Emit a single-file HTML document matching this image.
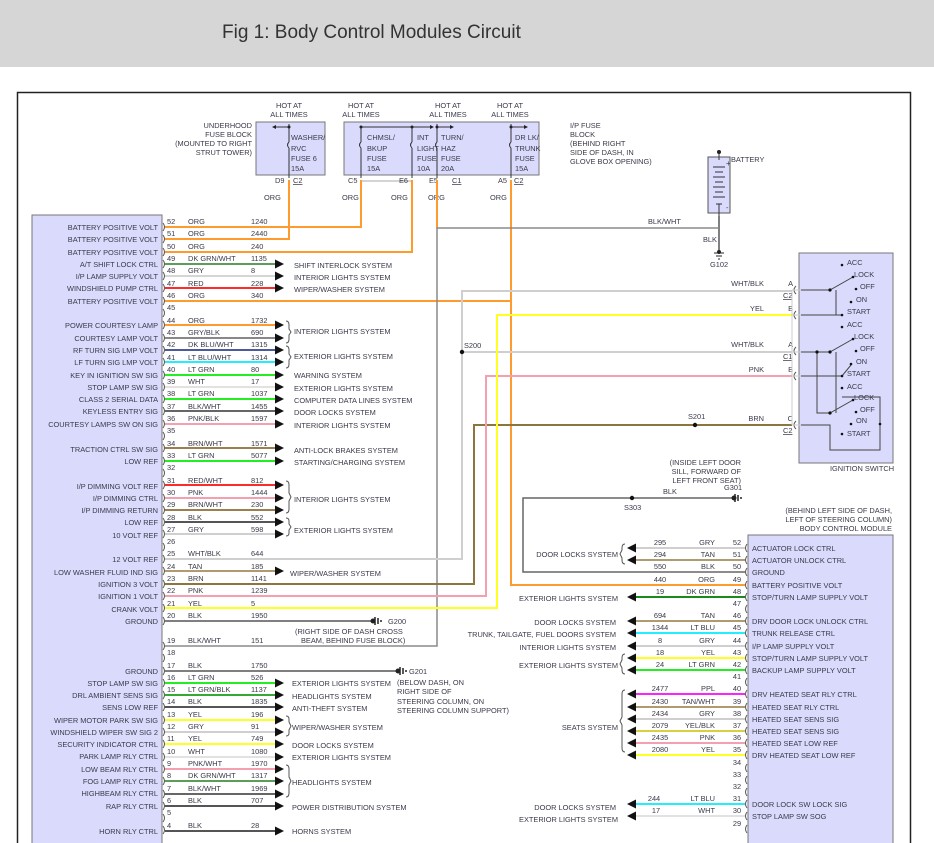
<!DOCTYPE html>
<html><head><meta charset="utf-8"><style>
html,body{margin:0;padding:0;background:#fff;width:934px;height:843px;overflow:hidden}
svg{display:block;overflow:hidden}
text{font-family:"Liberation Sans",sans-serif;font-size:7.4px;fill:#3a3a4a}
.e{text-anchor:end}.m{text-anchor:middle}
.w{stroke-width:2;fill:none}
</style></head><body>
<svg width="934" height="843" viewBox="0 0 934 843">
<rect x="0" y="0" width="934" height="67" fill="#d6d6d6"/>
<text x="222" y="38" style="font-size:19px;fill:#333">Fig 1: Body Control Modules Circuit</text>
<path d="M17.5,843V92.5H910.5V843" fill="#fff" stroke="#222" stroke-width="1.5"/>

<!-- left module -->
<path d="M32,843V215H162V843" fill="#dadafc" stroke="#777"/>
<!-- right module -->
<path d="M748,843V535H893V843" fill="#dadafc" stroke="#777"/>
<!-- ignition switch -->
<rect x="799" y="253" width="94" height="210" fill="#dadafc" stroke="#777"/>
<text x="830" y="471">IGNITION SWITCH</text>

<!-- top fuse blocks -->
<rect x="256" y="122" width="69" height="53" fill="#dadafc" stroke="#777"/>
<rect x="344" y="122" width="195" height="53" fill="#dadafc" stroke="#777"/>
<g class="m">
<text x="289" y="108">HOT AT</text><text x="289" y="117">ALL TIMES</text>
<text x="361" y="108">HOT AT</text><text x="361" y="117">ALL TIMES</text>
<text x="448" y="108">HOT AT</text><text x="448" y="117">ALL TIMES</text>
<text x="510" y="108">HOT AT</text><text x="510" y="117">ALL TIMES</text>
</g>
<g class="e"><text x="252" y="128">UNDERHOOD</text><text x="252" y="137">FUSE BLOCK</text><text x="252" y="146">(MOUNTED TO RIGHT</text><text x="252" y="155">STRUT TOWER)</text></g>
<text x="570" y="128">I/P FUSE</text><text x="570" y="137">BLOCK</text><text x="570" y="146">(BEHIND RIGHT</text><text x="570" y="155">SIDE OF DASH, IN</text><text x="570" y="164">GLOVE BOX OPENING)</text>
<g stroke="#333" stroke-width="1" fill="none">
<path d="M289,124V142 M289,148V178"/><path d="M289,142q-3,3 0,6"/>
<path d="M289,127H274"/><path d="M361,127H432 M437,127H452 M511,127H526"/>
<path d="M361,127V142 M361,148V178 M361,142q-3,3 0,6"/>
<path d="M412,127V142 M412,148V178 M412,142q-3,3 0,6"/>
<path d="M437,124V142 M437,148V178 M437,142q-3,3 0,6"/>
<path d="M511,124V142 M511,148V178 M511,142q-3,3 0,6"/>
<path d="M361,181H412" stroke="#aaa"/>
</g>
<g fill="#222"><circle cx="289" cy="127" r="1.5"/><circle cx="361" cy="127" r="1.5"/><circle cx="412" cy="127" r="1.5"/><circle cx="437" cy="127" r="1.5"/><circle cx="511" cy="127" r="1.5"/>
<path d="M272,127l4,-2v4z"/><path d="M434,127l-4,-2v4z"/><path d="M454,127l-4,-2v4z"/><path d="M528,127l-4,-2v4z"/></g>
<text x="291" y="140">WASHER/</text><text x="291" y="151">RVC</text><text x="291" y="161">FUSE 6</text><text x="291" y="171">15A</text>
<text x="367" y="140">CHMSL/</text><text x="367" y="151">BKUP</text><text x="367" y="161">FUSE</text><text x="367" y="171">15A</text>
<text x="417" y="140">INT</text><text x="417" y="151">LIGHT</text><text x="417" y="161">FUSE</text><text x="417" y="171">10A</text>
<text x="441" y="140">TURN/</text><text x="441" y="151">HAZ</text><text x="441" y="161">FUSE</text><text x="441" y="171">20A</text>
<text x="515" y="140">DR LK/</text><text x="515" y="151">TRUNK</text><text x="515" y="161">FUSE</text><text x="515" y="171">15A</text>
<text x="275" y="183">D9</text><text x="293" y="183" text-decoration="underline">C2</text>
<text x="348" y="183">C5</text><text x="399" y="183">E6</text>
<text x="429" y="183">E5</text><text x="452" y="183" text-decoration="underline">C1</text>
<text x="498" y="183">A5</text><text x="514" y="183" text-decoration="underline">C2</text>
<text x="264" y="200">ORG</text><text x="342" y="200">ORG</text><text x="391" y="200">ORG</text><text x="428" y="200">ORG</text><text x="490" y="200">ORG</text>

<!-- battery -->
<rect x="708" y="157" width="22" height="56" fill="#dadafc" stroke="#555"/>
<g stroke="#333" fill="none"><path d="M719,151V160 M713,167h12 M715,172h8 M713,177h12 M715,182h8 M713,187h12 M715,192h8 M713,197h12 M716,204h6 M719,204V216"/></g>
<circle cx="719" cy="152" r="2" fill="#222"/><text x="726" y="166" style="font-size:8px">+</text><text x="726" y="210">-</text>
<text x="731" y="162">BATTERY</text>
<text x="648" y="224">BLK/WHT</text><text x="703" y="242">BLK</text>
<path d="M719,216V252" stroke="#555" stroke-width="1.5"/>
<path d="M714,253h10 M716,256h6 M718,259h2" stroke="#222"/><circle cx="719" cy="252" r="2" fill="#222"/>
<text x="710" y="267">G102</text>

<!-- long wires -->
<g class="w">
<path d="M165,227H361V180" stroke="#ff9a2e"/>
<path d="M165,239H289V180" stroke="#ff9a2e"/>
<path d="M165,252H412V180" stroke="#ff9a2e"/>
<path d="M165,301H511V180" stroke="#ff9a2e"/>
<path d="M511,301V585H745" stroke="#ff9a2e"/>
<path d="M437,180V228" stroke="#ff9a2e"/>
<path d="M719,228H437V646H165" stroke="#8a8a8a" stroke-width="1.5"/>
<path d="M165,559H462V291H792" stroke="#cfcfcf"/>
<path d="M462,352H792" stroke="#cfcfcf"/>
<path d="M165,584H474V425H792" stroke="#8b7540"/>
<path d="M165,596H486V376H792" stroke="#f5a0b0"/>
<path d="M165,608H497V315H792" stroke="#ffff22"/>
<path d="M165,621H372" stroke="#555" stroke-width="1.5"/>
<path d="M165,671H397" stroke="#555" stroke-width="1.5"/>
<path d="M735,498H523V572H745" stroke="#666" stroke-width="1.5"/>
</g>
<circle cx="462" cy="352" r="2.2" fill="#111"/><text x="464" y="348">S200</text>
<circle cx="695" cy="425" r="2.2" fill="#111"/><text x="688" y="419">S201</text>
<circle cx="632" cy="498" r="2.2" fill="#111"/><text x="624" y="510">S303</text>
<text x="663" y="494">BLK</text>
<path d="M735,494v8 M738,495v6 M741,497v2" stroke="#222" stroke-width="1.5"/><circle cx="734" cy="498" r="2.5" fill="#222"/>
<text x="724" y="490">G301</text>
<g class="e"><text x="741" y="465">(INSIDE LEFT DOOR</text><text x="741" y="474">SILL, FORWARD OF</text><text x="741" y="483">LEFT FRONT SEAT)</text></g>
<path d="M375,617v8 M378,618v6 M381,620v2" stroke="#222" stroke-width="1.5"/><circle cx="373" cy="621" r="2.5" fill="#222"/>
<text x="388" y="624">G200</text>
<text x="295" y="634">(RIGHT SIDE OF DASH CROSS</text><text x="301" y="643">BEAM, BEHIND FUSE BLOCK)</text>
<path d="M400,667v8 M403,668v6 M406,670v2" stroke="#222" stroke-width="1.5"/><circle cx="398" cy="671" r="2.5" fill="#222"/>
<text x="409" y="674">G201</text>
<text x="397" y="685">(BELOW DASH, ON</text><text x="397" y="694">RIGHT SIDE OF</text><text x="397" y="704">STEERING COLUMN, ON</text><text x="397" y="713">STEERING COLUMN SUPPORT)</text>
<g class="e"><text x="892" y="513">(BEHIND LEFT SIDE OF DASH,</text><text x="892" y="522">LEFT OF STEERING COLUMN)</text><text x="892" y="531">BODY CONTROL MODULE</text></g>

<!-- ignition switch connectors & internals -->
<g class="e"><text x="764" y="286">WHT/BLK</text><text x="764" y="311">YEL</text><text x="764" y="347">WHT/BLK</text><text x="764" y="372">PNK</text><text x="764" y="421">BRN</text>
<text x="793" y="286">A</text><text x="793" y="311">B</text><text x="793" y="347">A</text><text x="793" y="372">B</text><text x="793" y="421">C</text></g>
<text x="783" y="298" text-decoration="underline">C2</text><text x="783" y="359" text-decoration="underline">C1</text><text x="783" y="433" text-decoration="underline">C2</text>
<g stroke="#555" fill="none"><path d="M796,286q-4,4 0,8 M796,311q-4,4 0,8 M796,347q-4,4 0,8 M796,372q-4,4 0,8 M796,421q-4,4 0,8"/>
<path d="M792,290H803 M792,315H803 M792,352H803 M792,376H803 M792,425H803" stroke="#ccc" stroke-width="1"/>
<path d="M792,290V425" stroke="#ccc"/>
<path d="M801,290H830L853,277 M836,290V315 M801,315H842 M801,352H830L853,339 M817,352V413H830L853,400 M836,352V413 M801,376H842L851,365 M801,425H830V450H880V397H842" stroke="#444"/>
</g>
<g fill="#111"><circle cx="830" cy="290" r="1.6"/><circle cx="842" cy="265" r="1.3"/><circle cx="853" cy="277" r="1.3"/><circle cx="856" cy="289" r="1.3"/><circle cx="851" cy="302" r="1.3"/><circle cx="842" cy="315" r="1.3"/>
<circle cx="830" cy="352" r="1.6"/><circle cx="817" cy="352" r="1.6"/><circle cx="842" cy="327" r="1.3"/><circle cx="853" cy="339" r="1.3"/><circle cx="856" cy="351" r="1.3"/><circle cx="851" cy="364" r="1.3"/><circle cx="842" cy="376" r="1.3"/>
<circle cx="830" cy="413" r="1.6"/><circle cx="842" cy="388" r="1.3"/><circle cx="853" cy="400" r="1.3"/><circle cx="856" cy="412" r="1.3"/><circle cx="851" cy="424" r="1.3"/><circle cx="880" cy="424" r="1.3"/><circle cx="842" cy="434" r="1.3"/></g>
<text x="847" y="265">ACC</text><text x="854" y="277">LOCK</text><text x="860" y="289">OFF</text><text x="856" y="302">ON</text><text x="847" y="314">START</text>
<text x="847" y="327">ACC</text><text x="854" y="339">LOCK</text><text x="860" y="351">OFF</text><text x="856" y="364">ON</text><text x="847" y="376">START</text>
<text x="847" y="389">ACC</text><text x="854" y="400">LOCK</text><text x="860" y="412">OFF</text><text x="856" y="423">ON</text><text x="847" y="436">START</text>

<!-- LEFT pins -->
<g stroke="#555" fill="none">
<path d="M163,223q3,4 0,8 M163,235q3,4 0,8 M163,248q3,4 0,8 M163,260q3,4 0,8 M163,272q3,4 0,8 M163,284q3,4 0,8 M163,297q3,4 0,8 M163,309q3,4 0,8 M163,321q3,4 0,8 M163,334q3,4 0,8 M163,346q3,4 0,8 M163,358q3,4 0,8 M163,371q3,4 0,8 M163,383q3,4 0,8 M163,395q3,4 0,8 M163,407q3,4 0,8 M163,420q3,4 0,8 M163,432q3,4 0,8 M163,444q3,4 0,8 M163,457q3,4 0,8 M163,469q3,4 0,8 M163,481q3,4 0,8 M163,494q3,4 0,8 M163,506q3,4 0,8 M163,518q3,4 0,8 M163,530q3,4 0,8 M163,543q3,4 0,8 M163,555q3,4 0,8 M163,567q3,4 0,8 M163,580q3,4 0,8 M163,592q3,4 0,8 M163,604q3,4 0,8 M163,617q3,4 0,8 M163,642q3,4 0,8 M163,654q3,4 0,8 M163,667q3,4 0,8 M163,679q3,4 0,8 M163,691q3,4 0,8 M163,703q3,4 0,8 M163,716q3,4 0,8 M163,728q3,4 0,8 M163,740q3,4 0,8 M163,753q3,4 0,8 M163,765q3,4 0,8 M163,777q3,4 0,8 M163,790q3,4 0,8 M163,802q3,4 0,8 M163,814q3,4 0,8 M163,826q3,4 0,8"/>
</g>
<g class="w">
<path d="M165,264H276" stroke="#5a9e5a"/><path d="M165,276H276" stroke="#d5d5d5"/><path d="M165,288H276" stroke="#ff2a2a"/>
<path d="M165,325H276" stroke="#ff9a2e"/><path d="M165,338H276" stroke="#888"/><path d="M165,350H276" stroke="#4a5a9a"/><path d="M165,362H276" stroke="#22eeff"/>
<path d="M165,375H276" stroke="#22ee22"/><path d="M165,387H276" stroke="#e2e2e2"/><path d="M165,399H276" stroke="#22ee22"/><path d="M165,411H276" stroke="#666"/><path d="M165,424H276" stroke="#f5a0b0"/>
<path d="M165,448H276" stroke="#9a8050"/><path d="M165,461H276" stroke="#22ee22"/>
<path d="M165,485H276" stroke="#ff2a2a"/><path d="M165,498H276" stroke="#f5a0b0"/><path d="M165,510H276" stroke="#9a8050"/><path d="M165,522H276" stroke="#555"/><path d="M165,534H276" stroke="#cfcfcf"/>
<path d="M165,571H276" stroke="#b09a70"/>
<path d="M165,683H276" stroke="#22ee22"/><path d="M165,695H276" stroke="#33aa33"/><path d="M165,707H276" stroke="#555"/><path d="M165,720H276" stroke="#ffff22"/><path d="M165,732H276" stroke="#cfcfcf"/><path d="M165,744H276" stroke="#ffff22"/><path d="M165,757H276" stroke="#e2e2e2"/>
<path d="M165,769H276" stroke="#f5a0b0"/><path d="M165,781H276" stroke="#5a9e5a"/><path d="M165,794H276" stroke="#666"/><path d="M165,806H276" stroke="#555"/><path d="M165,831H276" stroke="#555"/>
</g>
<g fill="#111">
<path d="M284,264l-9,-4.5v9z"/><path d="M284,276l-9,-4.5v9z"/><path d="M284,288l-9,-4.5v9z"/><path d="M284,325l-9,-4.5v9z"/><path d="M284,338l-9,-4.5v9z"/><path d="M284,350l-9,-4.5v9z"/><path d="M284,362l-9,-4.5v9z"/><path d="M284,375l-9,-4.5v9z"/><path d="M284,387l-9,-4.5v9z"/><path d="M284,399l-9,-4.5v9z"/><path d="M284,411l-9,-4.5v9z"/><path d="M284,424l-9,-4.5v9z"/><path d="M284,448l-9,-4.5v9z"/><path d="M284,461l-9,-4.5v9z"/><path d="M284,485l-9,-4.5v9z"/><path d="M284,498l-9,-4.5v9z"/><path d="M284,510l-9,-4.5v9z"/><path d="M284,522l-9,-4.5v9z"/><path d="M284,534l-9,-4.5v9z"/><path d="M284,571l-9,-4.5v9z"/><path d="M284,683l-9,-4.5v9z"/><path d="M284,695l-9,-4.5v9z"/><path d="M284,707l-9,-4.5v9z"/><path d="M284,720l-9,-4.5v9z"/><path d="M284,732l-9,-4.5v9z"/><path d="M284,744l-9,-4.5v9z"/><path d="M284,757l-9,-4.5v9z"/><path d="M284,769l-9,-4.5v9z"/><path d="M284,781l-9,-4.5v9z"/><path d="M284,794l-9,-4.5v9z"/><path d="M284,806l-9,-4.5v9z"/><path d="M284,831l-9,-4.5v9z"/>
</g>
<g stroke="#555" fill="none">
<path d="M286,321q3,0 3,4v4l2,3l-2,3v4q0,4-3,4"/><path d="M286,346q3,0 3,4v4l2,3l-2,3v4q0,4-3,4"/>
<path d="M286,481q3,0 3,4v8l2,4l-2,4v8q0,4-3,4"/><path d="M286,518q3,0 3,3v3l2,3l-2,3v3q0,3-3,3"/>
<path d="M286,716q3,0 3,3v3l2,4l-2,4v3q0,3-3,3"/><path d="M286,765q3,0 3,4v8l2,4l-2,4v8q0,4-3,4"/>
</g>
<!-- left labels -->
<g class="e">
<text x="158" y="230">BATTERY POSITIVE VOLT</text><text x="158" y="242">BATTERY POSITIVE VOLT</text><text x="158" y="255">BATTERY POSITIVE VOLT</text>
<text x="158" y="267">A/T SHIFT LOCK CTRL</text><text x="158" y="279">I/P LAMP SUPPLY VOLT</text><text x="158" y="291">WINDSHIELD PUMP CTRL</text><text x="158" y="304">BATTERY POSITIVE VOLT</text>
<text x="158" y="328">POWER COURTESY LAMP</text><text x="158" y="341">COURTESY LAMP VOLT</text><text x="158" y="353">RF TURN SIG LMP VOLT</text><text x="158" y="365">LF TURN SIG LMP VOLT</text>
<text x="158" y="378">KEY IN IGNITION SW SIG</text><text x="158" y="390">STOP LAMP SW SIG</text><text x="158" y="402">CLASS 2 SERIAL DATA</text><text x="158" y="414">KEYLESS ENTRY SIG</text><text x="158" y="427">COURTESY LAMPS SW ON SIG</text>
<text x="158" y="452">TRACTION CTRL SW SIG</text><text x="158" y="464">LOW REF</text>
<text x="158" y="489">I/P DIMMING VOLT REF</text><text x="158" y="501">I/P DIMMING CTRL</text><text x="158" y="513">I/P DIMMING RETURN</text><text x="158" y="525">LOW REF</text><text x="158" y="538">10 VOLT REF</text>
<text x="158" y="562">12 VOLT REF</text><text x="158" y="575">LOW WASHER FLUID IND SIG</text><text x="158" y="587">IGNITION 3 VOLT</text><text x="158" y="599">IGNITION 1 VOLT</text><text x="158" y="612">CRANK VOLT</text><text x="158" y="624">GROUND</text>
<text x="158" y="674">GROUND</text><text x="158" y="686">STOP LAMP SW SIG</text><text x="158" y="698">DRL AMBIENT SENS SIG</text><text x="158" y="710">SENS LOW REF</text><text x="158" y="723">WIPER MOTOR PARK SW SIG</text><text x="158" y="735">WINDSHIELD WIPER SW SIG 2</text><text x="158" y="747">SECURITY INDICATOR CTRL</text><text x="158" y="759">PARK LAMP RLY CTRL</text>
<text x="158" y="772">LOW BEAM RLY CTRL</text><text x="158" y="784">FOG LAMP RLY CTRL</text><text x="158" y="796">HIGHBEAM RLY CTRL</text><text x="158" y="809">RAP RLY CTRL</text><text x="158" y="834">HORN RLY CTRL</text>
</g>
<!-- left pin numbers / colors / circuits -->
<g>
<text x="167" y="224">52</text><text x="188" y="224">ORG</text><text x="251" y="224">1240</text>
<text x="167" y="236">51</text><text x="188" y="236">ORG</text><text x="251" y="236">2440</text>
<text x="167" y="249">50</text><text x="188" y="249">ORG</text><text x="251" y="249">240</text>
<text x="167" y="261">49</text><text x="188" y="261">DK GRN/WHT</text><text x="251" y="261">1135</text>
<text x="167" y="273">48</text><text x="188" y="273">GRY</text><text x="251" y="273">8</text>
<text x="167" y="286">47</text><text x="188" y="286">RED</text><text x="251" y="286">228</text>
<text x="167" y="298">46</text><text x="188" y="298">ORG</text><text x="251" y="298">340</text>
<text x="167" y="310">45</text>
<text x="167" y="323">44</text><text x="188" y="323">ORG</text><text x="251" y="323">1732</text>
<text x="167" y="335">43</text><text x="188" y="335">GRY/BLK</text><text x="251" y="335">690</text>
<text x="167" y="347">42</text><text x="188" y="347">DK BLU/WHT</text><text x="251" y="347">1315</text>
<text x="167" y="360">41</text><text x="188" y="360">LT BLU/WHT</text><text x="251" y="360">1314</text>
<text x="167" y="372">40</text><text x="188" y="372">LT GRN</text><text x="251" y="372">80</text>
<text x="167" y="384">39</text><text x="188" y="384">WHT</text><text x="251" y="384">17</text>
<text x="167" y="396">38</text><text x="188" y="396">LT GRN</text><text x="251" y="396">1037</text>
<text x="167" y="409">37</text><text x="188" y="409">BLK/WHT</text><text x="251" y="409">1455</text>
<text x="167" y="421">36</text><text x="188" y="421">PNK/BLK</text><text x="251" y="421">1597</text>
<text x="167" y="433">35</text>
<text x="167" y="446">34</text><text x="188" y="446">BRN/WHT</text><text x="251" y="446">1571</text>
<text x="167" y="458">33</text><text x="188" y="458">LT GRN</text><text x="251" y="458">5077</text>
<text x="167" y="470">32</text>
<text x="167" y="483">31</text><text x="188" y="483">RED/WHT</text><text x="251" y="483">812</text>
<text x="167" y="495">30</text><text x="188" y="495">PNK</text><text x="251" y="495">1444</text>
<text x="167" y="507">29</text><text x="188" y="507">BRN/WHT</text><text x="251" y="507">230</text>
<text x="167" y="520">28</text><text x="188" y="520">BLK</text><text x="251" y="520">552</text>
<text x="167" y="532">27</text><text x="188" y="532">GRY</text><text x="251" y="532">598</text>
<text x="167" y="544">26</text>
<text x="167" y="556">25</text><text x="188" y="556">WHT/BLK</text><text x="251" y="556">644</text>
<text x="167" y="569">24</text><text x="188" y="569">TAN</text><text x="251" y="569">185</text>
<text x="167" y="581">23</text><text x="188" y="581">BRN</text><text x="251" y="581">1141</text>
<text x="167" y="593">22</text><text x="188" y="593">PNK</text><text x="251" y="593">1239</text>
<text x="167" y="606">21</text><text x="188" y="606">YEL</text><text x="251" y="606">5</text>
<text x="167" y="618">20</text><text x="188" y="618">BLK</text><text x="251" y="618">1950</text>
<text x="167" y="643">19</text><text x="188" y="643">BLK/WHT</text><text x="251" y="643">151</text>
<text x="167" y="655">18</text>
<text x="167" y="668">17</text><text x="188" y="668">BLK</text><text x="251" y="668">1750</text>
<text x="167" y="680">16</text><text x="188" y="680">LT GRN</text><text x="251" y="680">526</text>
<text x="167" y="692">15</text><text x="188" y="692">LT GRN/BLK</text><text x="251" y="692">1137</text>
<text x="167" y="704">14</text><text x="188" y="704">BLK</text><text x="251" y="704">1835</text>
<text x="167" y="717">13</text><text x="188" y="717">YEL</text><text x="251" y="717">196</text>
<text x="167" y="729">12</text><text x="188" y="729">GRY</text><text x="251" y="729">91</text>
<text x="167" y="741">11</text><text x="188" y="741">YEL</text><text x="251" y="741">749</text>
<text x="167" y="754">10</text><text x="188" y="754">WHT</text><text x="251" y="754">1080</text>
<text x="167" y="766">9</text><text x="188" y="766">PNK/WHT</text><text x="251" y="766">1970</text>
<text x="167" y="778">8</text><text x="188" y="778">DK GRN/WHT</text><text x="251" y="778">1317</text>
<text x="167" y="791">7</text><text x="188" y="791">BLK/WHT</text><text x="251" y="791">1969</text>
<text x="167" y="803">6</text><text x="188" y="803">BLK</text><text x="251" y="803">707</text>
<text x="167" y="815">5</text>
<text x="167" y="828">4</text><text x="188" y="828">BLK</text><text x="251" y="828">28</text>
</g>
<!-- left systems -->
<g>
<text x="294" y="268">SHIFT INTERLOCK SYSTEM</text><text x="294" y="280">INTERIOR LIGHTS SYSTEM</text><text x="294" y="292">WIPER/WASHER SYSTEM</text>
<text x="294" y="334">INTERIOR LIGHTS SYSTEM</text><text x="294" y="359">EXTERIOR LIGHTS SYSTEM</text>
<text x="294" y="378">WARNING SYSTEM</text><text x="294" y="391">EXTERIOR LIGHTS SYSTEM</text><text x="294" y="403">COMPUTER DATA LINES SYSTEM</text><text x="294" y="415">DOOR LOCKS SYSTEM</text><text x="294" y="428">INTERIOR LIGHTS SYSTEM</text>
<text x="294" y="453">ANTI-LOCK BRAKES SYSTEM</text><text x="294" y="465">STARTING/CHARGING SYSTEM</text>
<text x="294" y="502">INTERIOR LIGHTS SYSTEM</text><text x="294" y="533">EXTERIOR LIGHTS SYSTEM</text>
<text x="290" y="576">WIPER/WASHER SYSTEM</text>
<text x="292" y="686">EXTERIOR LIGHTS SYSTEM</text><text x="292" y="699">HEADLIGHTS SYSTEM</text><text x="292" y="711">ANTI-THEFT SYSTEM</text><text x="292" y="730">WIPER/WASHER SYSTEM</text><text x="292" y="748">DOOR LOCKS SYSTEM</text><text x="292" y="760">EXTERIOR LIGHTS SYSTEM</text><text x="292" y="785">HEADLIGHTS SYSTEM</text><text x="292" y="810">POWER DISTRIBUTION SYSTEM</text><text x="292" y="834">HORNS SYSTEM</text>
</g>

<!-- RIGHT module pins -->
<g stroke="#555" fill="none">
<path d="M747,544q-3,4 0,8 M747,556q-3,4 0,8 M747,568q-3,4 0,8 M747,581q-3,4 0,8 M747,593q-3,4 0,8 M747,605q-3,4 0,8 M747,617q-3,4 0,8 M747,629q-3,4 0,8 M747,642q-3,4 0,8 M747,654q-3,4 0,8 M747,666q-3,4 0,8 M747,678q-3,4 0,8 M747,690q-3,4 0,8 M747,703q-3,4 0,8 M747,715q-3,4 0,8 M747,727q-3,4 0,8 M747,739q-3,4 0,8 M747,751q-3,4 0,8 M747,764q-3,4 0,8 M747,776q-3,4 0,8 M747,788q-3,4 0,8 M747,800q-3,4 0,8 M747,812q-3,4 0,8 M747,825q-3,4 0,8"/>
</g>
<g class="w">
<path d="M633,548H745" stroke="#cfcfcf"/><path d="M633,560H745" stroke="#b09a70"/>
<path d="M633,597H745" stroke="#1a8a1a"/>
<path d="M633,621H745" stroke="#b09a70"/><path d="M633,633H745" stroke="#22eeff"/><path d="M633,646H745" stroke="#cfcfcf"/><path d="M633,658H745" stroke="#ffff22"/><path d="M633,670H745" stroke="#22ee22"/>
<path d="M633,694H745" stroke="#ff22ff"/><path d="M633,707H745" stroke="#b09a70"/><path d="M633,719H745" stroke="#cfcfcf"/><path d="M633,731H745" stroke="#d8d040"/><path d="M633,743H745" stroke="#f5a0b0"/><path d="M633,755H745" stroke="#ffff22"/>
<path d="M633,804H745" stroke="#22eeff"/><path d="M633,816H745" stroke="#e2e2e2"/>
</g>
<g fill="#111">
<path d="M627,548l9,-4.5v9z"/><path d="M627,560l9,-4.5v9z"/><path d="M627,597l9,-4.5v9z"/><path d="M627,621l9,-4.5v9z"/><path d="M627,633l9,-4.5v9z"/><path d="M627,646l9,-4.5v9z"/><path d="M627,658l9,-4.5v9z"/><path d="M627,670l9,-4.5v9z"/><path d="M627,694l9,-4.5v9z"/><path d="M627,707l9,-4.5v9z"/><path d="M627,719l9,-4.5v9z"/><path d="M627,731l9,-4.5v9z"/><path d="M627,743l9,-4.5v9z"/><path d="M627,755l9,-4.5v9z"/><path d="M627,804l9,-4.5v9z"/><path d="M627,816l9,-4.5v9z"/>
</g>
<g stroke="#555" fill="none">
<path d="M625,544q-3,0 -3,4v2l-2,4l2,4v2q0,4 3,4"/>
<path d="M625,654q-3,0 -3,4v2l-2,4l2,4v2q0,4 3,4"/>
<path d="M625,690q-3,0 -3,4v23l-2,4l2,4v23q0,4 3,4"/>
</g>
<g class="m">
<text x="660" y="545">295</text><text x="660" y="557">294</text><text x="660" y="569">550</text><text x="660" y="582">440</text><text x="660" y="594">19</text>
<text x="660" y="618">694</text><text x="660" y="630">1344</text><text x="660" y="643">8</text><text x="660" y="655">18</text><text x="660" y="667">24</text>
<text x="660" y="691">2477</text><text x="660" y="704">2430</text><text x="660" y="716">2434</text><text x="660" y="728">2079</text><text x="660" y="740">2435</text><text x="660" y="752">2080</text>
<text x="654" y="801">244</text><text x="656" y="813">17</text>
<text x="737" y="545">52</text><text x="737" y="557">51</text><text x="737" y="569">50</text><text x="737" y="582">49</text><text x="737" y="594">48</text><text x="737" y="606">47</text><text x="737" y="618">46</text><text x="737" y="630">45</text><text x="737" y="643">44</text><text x="737" y="655">43</text><text x="737" y="667">42</text><text x="737" y="679">41</text><text x="737" y="691">40</text><text x="737" y="704">39</text><text x="737" y="716">38</text><text x="737" y="728">37</text><text x="737" y="740">36</text><text x="737" y="752">35</text><text x="737" y="765">34</text><text x="737" y="777">33</text><text x="737" y="789">32</text><text x="737" y="801">31</text><text x="737" y="813">30</text><text x="737" y="826">29</text>
</g>
<g class="e">
<text x="715" y="545">GRY</text><text x="715" y="557">TAN</text><text x="715" y="569">BLK</text><text x="715" y="582">ORG</text><text x="715" y="594">DK GRN</text>
<text x="715" y="618">TAN</text><text x="715" y="630">LT BLU</text><text x="715" y="643">GRY</text><text x="715" y="655">YEL</text><text x="715" y="667">LT GRN</text>
<text x="715" y="691">PPL</text><text x="715" y="704">TAN/WHT</text><text x="715" y="716">GRY</text><text x="715" y="728">YEL/BLK</text><text x="715" y="740">PNK</text><text x="715" y="752">YEL</text>
<text x="715" y="801">LT BLU</text><text x="715" y="813">WHT</text>
<text x="618" y="557">DOOR LOCKS SYSTEM</text><text x="618" y="601">EXTERIOR LIGHTS SYSTEM</text><text x="616" y="625">DOOR LOCKS SYSTEM</text><text x="616" y="637">TRUNK, TAILGATE, FUEL DOORS SYSTEM</text><text x="616" y="650">INTERIOR LIGHTS SYSTEM</text><text x="618" y="668">EXTERIOR LIGHTS SYSTEM</text><text x="618" y="730">SEATS SYSTEM</text><text x="616" y="810">DOOR LOCKS SYSTEM</text><text x="618" y="822">EXTERIOR LIGHTS SYSTEM</text>
</g>
<g>
<text x="752" y="551">ACTUATOR LOCK CTRL</text><text x="752" y="563">ACTUATOR UNLOCK CTRL</text><text x="752" y="575">GROUND</text><text x="752" y="588">BATTERY POSITIVE VOLT</text><text x="752" y="600">STOP/TURN LAMP SUPPLY VOLT</text>
<text x="752" y="624">DRV DOOR LOCK UNLOCK CTRL</text><text x="752" y="636">TRUNK RELEASE CTRL</text><text x="752" y="649">I/P LAMP SUPPLY VOLT</text><text x="752" y="661">STOP/TURN LAMP SUPPLY VOLT</text><text x="752" y="673">BACKUP LAMP SUPPLY VOLT</text>
<text x="752" y="697">DRV HEATED SEAT RLY CTRL</text><text x="752" y="710">HEATED SEAT RLY CTRL</text><text x="752" y="722">HEATED SEAT SENS SIG</text><text x="752" y="734">HEATED SEAT SENS SIG</text><text x="752" y="746">HEATED SEAT LOW REF</text><text x="752" y="758">DRV HEATED SEAT LOW REF</text>
<text x="752" y="807">DOOR LOCK SW LOCK SIG</text><text x="752" y="819">STOP LAMP SW SOG</text>
</g>
</svg>
</body></html>
